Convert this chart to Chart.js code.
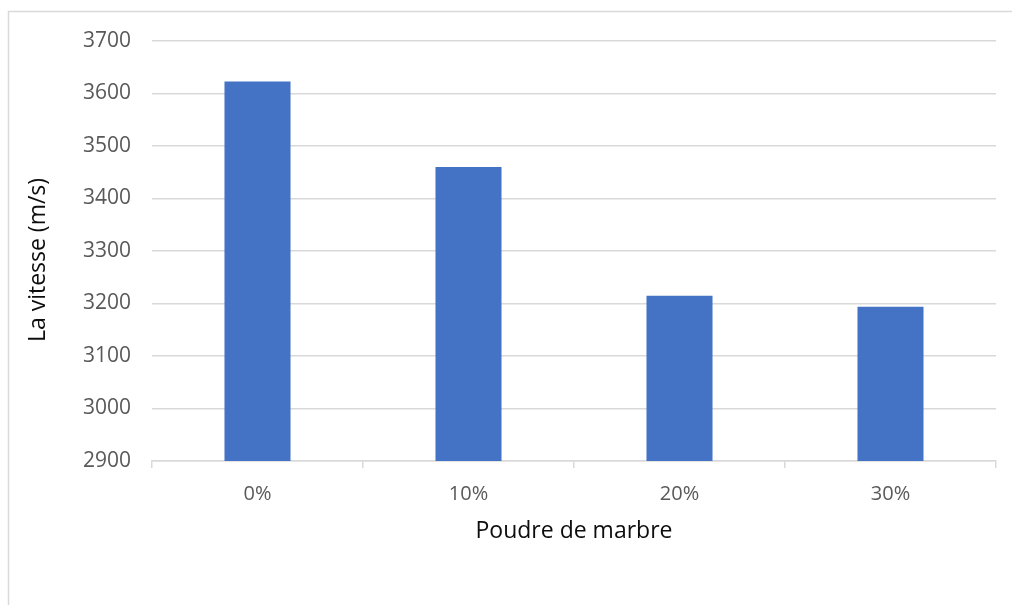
<!DOCTYPE html>
<html>
<head>
<meta charset="utf-8">
<script src="https://cdn.jsdelivr.net/npm/chart.js@4.4.1/dist/chart.umd.min.js"></script>
<style>
  html, body { margin: 0; padding: 0; background: #ffffff; }
  #wrap { width: 1012px; height: 605px; position: relative; }
</style>
</head>
<body>
<div id="wrap"><canvas id="chart" width="1012" height="605"></canvas></div>
<script>
// Ultrasonic pulse velocity by marble powder content
const categories = ['0%', '10%', '20%', '30%'];
const velocities = [3623, 3460, 3215, 3194];
const yTicks = [2900, 3000, 3100, 3200, 3300, 3400, 3500, 3600, 3700];

const xTitle = 'Poudre de marbre';
const yTitle = 'La vitesse (m/s)';

const FONT = "'Open Sans', 'Noto Sans', sans-serif";
const GRID = '#d9d9d9';

// Light frame along the top and left edges of the chart
const framePlugin = {
  id: 'frame',
  beforeDraw(chart) {
    const ctx = chart.ctx;
    ctx.save();
    ctx.fillStyle = '#ffffff';
    ctx.fillRect(0, 0, chart.width, chart.height);
    ctx.strokeStyle = GRID;
    ctx.lineWidth = 1.5;
    ctx.beginPath();
    ctx.moveTo(8.5, chart.height);
    ctx.lineTo(8.5, 11.5);
    ctx.lineTo(chart.width, 11.5);
    ctx.stroke();
    ctx.restore();
  }
};

// Vertical axis title, set a little below the plot's mid-height
const yTitlePlugin = {
  id: 'yTitle',
  afterDraw(chart) {
    const ctx = chart.ctx;
    const area = chart.chartArea;
    ctx.save();
    ctx.translate(38, (area.top + area.bottom) / 2 + 9);
    ctx.rotate(-Math.PI / 2);
    ctx.font = "23px " + FONT;
    ctx.fillStyle = '#0d0d0d';
    ctx.textAlign = 'center';
    ctx.textBaseline = 'middle';
    ctx.fillText(yTitle, 0, 0);
    ctx.restore();
  }
};

new Chart(document.getElementById('chart'), {
  type: 'bar',
  data: {
    labels: categories,
    datasets: [{
      data: velocities,
      backgroundColor: '#4472c4',
      borderWidth: 0,
      categoryPercentage: 1.0,
      barPercentage: 0.313
    }]
  },
  options: {
    responsive: false,
    animation: false,
    layout: { padding: { top: 41, right: 16, left: 0, bottom: 0 } },
    plugins: {
      legend: { display: false },
      tooltip: { enabled: false }
    },
    scales: {
      x: {
        offset: true,
        grid: {
          offset: true,
          drawOnChartArea: false,
          drawTicks: true,
          tickLength: 7,
          color: GRID,
          lineWidth: 1.5
        },
        border: { display: true, color: GRID, width: 1.5 },
        ticks: {
          color: '#595959',
          font: { family: FONT, size: 20 },
          padding: 14
        },
        title: {
          display: true,
          text: xTitle,
          color: '#0d0d0d',
          font: { family: FONT, size: 23 },
          padding: { top: 0, bottom: 60 }
        },
        afterFit(scale) { scale.height = 144; }
      },
      y: {
        min: 2900,
        max: 3700,
        afterBuildTicks(scale) {
          scale.ticks = yTicks.map(v => ({ value: v }));
        },
        grid: {
          color: GRID,
          lineWidth: 1.5,
          drawTicks: false
        },
        border: { display: false },
        ticks: {
          color: '#595959',
          font: { family: FONT, size: 21 },
          padding: 21,
          callback: v => String(v)
        },
        afterFit(scale) { scale.width = 152; }
      }
    }
  },
  plugins: [framePlugin, yTitlePlugin]
});
</script>
</body>
</html>
